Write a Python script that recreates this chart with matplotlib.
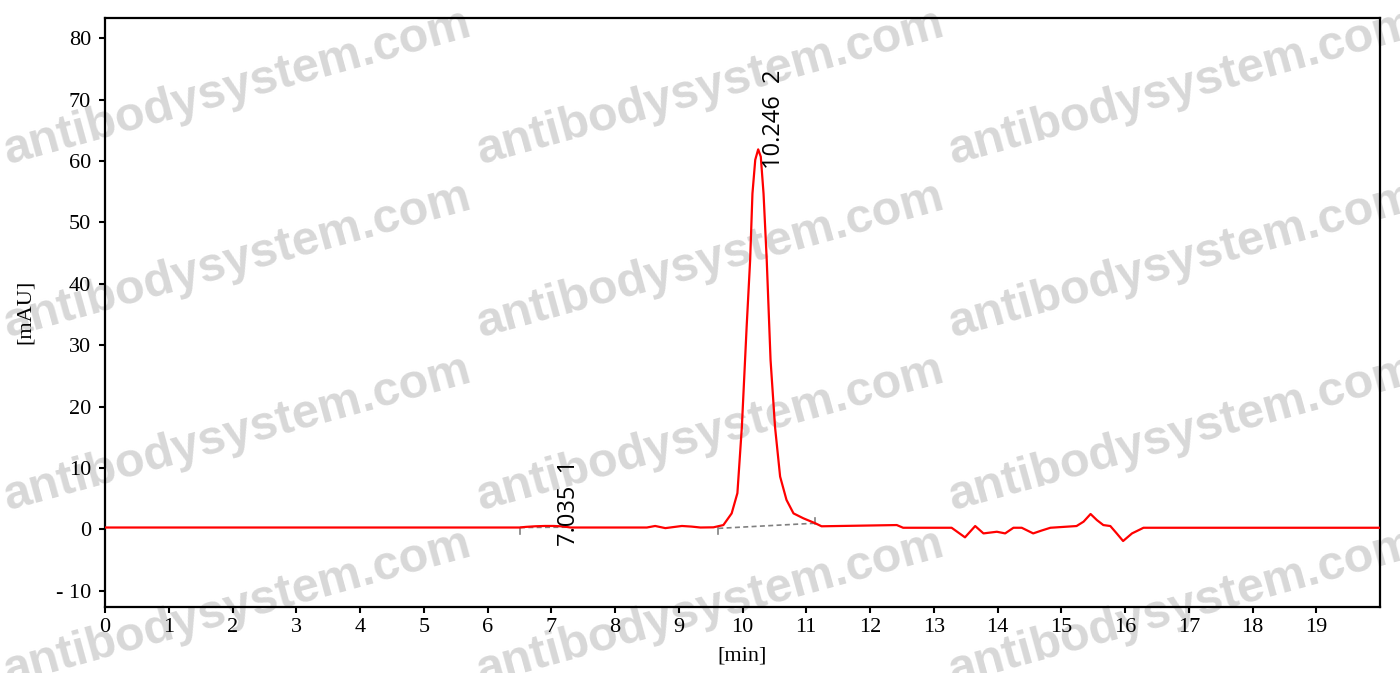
import matplotlib

matplotlib.use("Agg")
import matplotlib.pyplot as plt

# chromatogram trace: time [min], signal [mAU]
times = [0.0, 6.5, 6.6, 6.75, 6.9, 7.035, 7.15, 7.24, 7.3, 8.5, 8.63, 8.79, 8.9,
         9.05, 9.2, 9.34, 9.544, 9.7, 9.83, 9.92, 9.99, 10.065, 10.12, 10.156, 10.2,
         10.246, 10.287, 10.33, 10.38, 10.44, 10.51, 10.59, 10.69, 10.8, 10.955,
         11.14, 11.24, 12.42, 12.52, 13.28, 13.49, 13.65, 13.78, 13.99, 14.12,
         14.25, 14.38, 14.56, 14.69, 14.83, 15.24, 15.35, 15.46, 15.56, 15.66,
         15.77, 15.87, 15.97, 16.11, 16.24, 16.29, 20.0]
signal = [0.3, 0.3, 0.4, 0.5, 0.55, 0.55, 0.5, 0.4, 0.3, 0.3, 0.55, 0.2, 0.35,
          0.55, 0.45, 0.3, 0.33, 0.7, 2.6, 5.9, 16.7, 33.0, 43.9, 54.7, 60.2,
          61.9, 60.7, 54.7, 43.9, 27.6, 16.7, 8.6, 4.8, 2.6, 1.8,
          1.0, 0.5, 0.7, 0.26, 0.26, -1.3, 0.54, -0.66, -0.39, -0.66,
          0.26, 0.26, -0.66, -0.2, 0.26, 0.54, 1.25, 2.5, 1.5, 0.7,
          0.54, -0.66, -1.9, -0.66, 0.0, 0.26, 0.26]

# integration baselines
base_t = [[6.51, 7.24], [9.62, 11.14]]
base_y = [[0.3, 0.35], [0.16, 1.0]]

# peak annotations
peak_rt = [7.035, 10.246]
peak_h = [0.55, 61.9]
peak_no = [1, 2]

x_ticks = list(range(0, 20))
y_ticks = list(range(-10, 81, 10))

W, H = 1400, 673
fig = plt.figure(figsize=(W / 100, H / 100), dpi=100)
ax = fig.add_axes([105 / W, 1 - 606.7 / H, (1380 - 105) / W, (606.7 - 18) / H])
ax.set_facecolor("none")

# watermark grid behind the axes
wm_cols = [237, 710, 1182]
wm_rows = [88, 261, 434, 608]
for cx in wm_cols:
    for cy in wm_rows:
        fig.text(cx / W, 1 - cy / H, "antibodysystem.com", fontsize=35,
                 family="Liberation Sans", weight="bold", color="#d8d8d8",
                 rotation=15.5, rotation_mode="anchor", ha="center", va="center",
                 zorder=-1)

ax.plot(times, signal, color="#ff0000", lw=1.6, zorder=3)

for bt, by in zip(base_t, base_y):
    ax.plot(bt, by, color="#808080", lw=1.2, ls=(0, (3, 2)), zorder=2)
ax.plot([6.51, 6.51], [0.3, -0.7], color="#808080", lw=1.2)
ax.plot([9.62, 9.62], [0.16, -0.8], color="#808080", lw=1.2)
ax.plot([11.14, 11.14], [0.9, 1.8], color="#808080", lw=1.2)

for rt, h, n in zip(peak_rt, peak_h, peak_no):
    ax.text(rt + 0.25, h - 3.2, f"{rt:.3f}  {n}", rotation=90, ha="center",
            va="bottom", fontsize=17, family="Open Sans", color="black", zorder=4)

ax.set_xlim(0, 20)
ax.set_ylim(-12.6, 83.3)
ax.set_xticks(x_ticks)
ax.set_yticks(y_ticks)
ax.set_xticklabels([str(v) for v in x_ticks])
ax.set_yticklabels([str(v).replace("-", "- ") for v in y_ticks])
for sp in ax.spines.values():
    sp.set_linewidth(1.6)
ax.tick_params(direction="out", length=4, width=1.5, labelsize=16)
ax.tick_params(axis="x", pad=4)
ax.tick_params(axis="y", pad=6)
for lab in ax.get_xticklabels() + ax.get_yticklabels():
    lab.set_family("Liberation Serif")

ax.set_xlabel("[min]", family="Liberation Serif", fontsize=16, labelpad=7)
ax.set_ylabel("[mAU]", family="Liberation Serif", fontsize=16, labelpad=15)

fig.savefig("out.png", dpi=100)
